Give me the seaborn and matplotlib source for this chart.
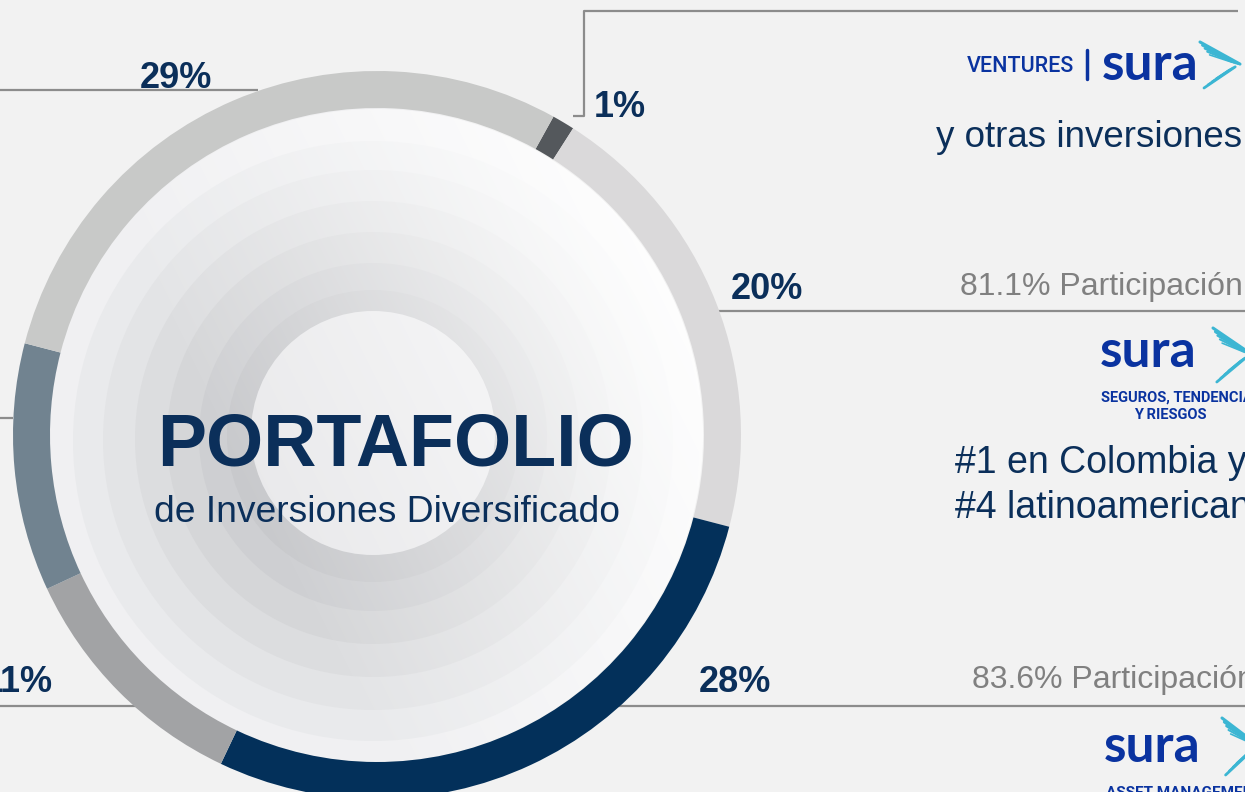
import numpy as np
import matplotlib.pyplot as plt
from matplotlib.patches import Circle
import seaborn as sns

# Anillo del portafolio (sentido horario, desde la porción de 1%)
segmentos = ['Ventures y otras', 'Seguros', 'Asset Management', 'Inversión A', 'Inversión B', 'Inversión C']
valores = [1, 20, 28, 11, 11, 29]
etiquetas = ['1%', '20%', '28%', '11%', '11%', '29%']
colores = ['#54585c', '#dad9da', '#03305a', '#a2a3a5', '#718390', '#c8c9c8']

participacion = ['81.1% Participación', '83.6% Participación']

W, H = 1245, 792
NAVY = '#0b2f5a'
AZUL = '#0a33a0'
CIAN = '#3cb6d3'
GRIS = '#8c8c8c'


def Y(y):
    # coordenadas de imagen (y hacia abajo) -> datos
    return H - y


sns.set_theme(style='white')
plt.rcParams['font.family'] = ['Liberation Sans', 'DejaVu Sans']

fig = plt.figure(figsize=(12.45, 7.92), dpi=100)
fig.patch.set_facecolor('#f2f2f2')
ax = fig.add_axes([0, 0, 1, 1])
ax.set_facecolor('#f2f2f2')

cx, cy = 377, Y(435)
R, ancho = 364, 37

# disco interior con círculos concéntricos
discos = [(0, 327, '#f0f0f2'), (6, 300, '#e9eaec'), (5, 270, '#e3e4e6'),
          (4, 238, '#dcdddf'), (3, 206, '#d5d6d8'), (2, 174, '#cecfd2'),
          (1, 146, '#c8c9cc'), (-2, 122, '#e9e9eb')]
for dy, r, c in discos:
    ax.add_patch(Circle((cx - 4, cy - dy), r, color=c, zorder=1, lw=0))

# luz desde arriba a la derecha
u = np.linspace(0, 1, 300)
v = np.linspace(0, 1, 300)
U, V = np.meshgrid(u, v)
alpha = np.clip(1.1 * U + 0.55 * V - 0.55, 0, 0.95)
luz = np.ones((300, 300, 4))
luz[..., 3] = alpha
im = ax.imshow(luz, extent=[cx - 327, cx + 327, cy - 327, cy + 327],
               origin='lower', zorder=2, interpolation='bilinear')
im.set_clip_path(Circle((cx, cy), 326, transform=ax.transData))

ax.pie(valores, colors=colores, startangle=61, counterclock=False,
       radius=R, center=(cx, cy),
       wedgeprops=dict(width=ancho, edgecolor='none', linewidth=0))
for p in ax.patches[-len(valores):]:
    p.set_zorder(3)

# líneas guía
lineas = [
    ([0, 258], [90, 90]),
    ([573, 584, 584, 1238], [116, 116, 11, 11]),
    ([718, W], [311, 311]),
    ([617, W], [706, 706]),
    ([0, 137], [706, 706]),
    ([0, 13], [418, 418]),
]
for xs, ys in lineas:
    ax.plot(xs, [Y(y) for y in ys], color=GRIS, lw=1.6, zorder=2.5,
            solid_capstyle='butt')

# etiquetas de porcentaje (la del segmento pizarra queda fuera del recorte)
pos_etiquetas = [(594, 117, 'left'), (731, 299, 'left'), (699, 692, 'left'),
                 (53, 692, 'right'), None, (140, 88, 'left')]
for txt, pos in zip(etiquetas, pos_etiquetas):
    if pos is None:
        continue
    x, y, ha = pos
    ax.text(x, Y(y), txt, ha=ha, va='baseline', fontsize=26,
            fontweight='bold', color=NAVY, zorder=5)

# título central
ax.text(396, Y(465), 'PORTAFOLIO', ha='center', va='baseline', fontsize=53,
        fontweight='bold', color=NAVY, zorder=5)
ax.text(387, Y(522), 'de Inversiones Diversificado', ha='center',
        va='baseline', fontsize=26.8, color=NAVY, zorder=5)


def ala(x0, y0, w, h):
    # ala estilizada del logo
    xm, ym = x0 + w, y0 + h * 0.48
    for i in range(5):
        ax.plot([x0 + i * w * 0.06, xm - i * w * 0.05],
                [Y(y0 + i * h * 0.07), Y(ym - i * h * 0.01)],
                color=CIAN, lw=2.2 - 0.25 * i, solid_capstyle='round', zorder=5)
    for i in range(4):
        ax.plot([x0 + w * 0.1 + i * w * 0.1, xm - w * 0.12 - i * w * 0.05],
                [Y(y0 + h - i * h * 0.07), Y(ym + h * 0.06 + i * h * 0.02)],
                color=CIAN, lw=2.0 - 0.3 * i, solid_capstyle='round', zorder=5)


# bloque Ventures
ax.text(967, Y(72), 'VENTURES', fontsize=15.5, color=AZUL, va='baseline',
        family=['Roboto', 'DejaVu Sans'], fontweight='medium', zorder=5)
ax.plot([1087, 1087], [Y(50), Y(79)], color=AZUL, lw=2.5, zorder=5)
ax.text(1102, Y(80), 'sura', fontsize=37, color=AZUL, va='baseline',
        family=['Lato', 'DejaVu Sans'], fontweight='bold', zorder=5)
ala(1200, 42, 40, 46)
ax.text(936, Y(147), 'y otras inversiones', fontsize=26.5, color=NAVY,
        va='baseline', zorder=5)
ax.text(960, Y(295), participacion[0], fontsize=23, color='#808080',
        va='baseline', zorder=5)

# bloque Seguros
ax.text(1100, Y(367), 'sura', fontsize=37, color=AZUL, va='baseline',
        family=['Lato', 'DejaVu Sans'], fontweight='bold', zorder=5)
ala(1213, 328, 38, 54)
ax.text(1101, Y(402), 'SEGUROS, TENDENCIAS', fontsize=10.5, color=AZUL,
        va='baseline', family=['Roboto', 'DejaVu Sans'], fontweight='bold', zorder=5)
ax.text(1170, Y(419), 'Y RIESGOS', fontsize=10.5, color=AZUL, ha='center',
        va='baseline', family=['Roboto', 'DejaVu Sans'], fontweight='bold', zorder=5)
ax.text(955, Y(473), '#1 en Colombia y', fontsize=27, color=NAVY,
        va='baseline', zorder=5)
ax.text(955, Y(518), '#4 latinoamericana', fontsize=27, color=NAVY,
        va='baseline', zorder=5)
ax.text(972, Y(688), participacion[1], fontsize=23, color='#808080',
        va='baseline', zorder=5)

# bloque Asset Management
ax.text(1104, Y(762), 'sura', fontsize=37, color=AZUL, va='baseline',
        family=['Lato', 'DejaVu Sans'], fontweight='bold', zorder=5)
ala(1222, 718, 36, 57)
ax.text(1106, Y(797), 'ASSET MANAGEMENT', fontsize=11, color=AZUL,
        va='baseline', family=['Roboto', 'DejaVu Sans'], fontweight='bold', zorder=5)

ax.set_xlim(0, W)
ax.set_ylim(0, H)
ax.set_aspect('equal')
ax.axis('off')

fig.savefig('out.png', dpi=100, facecolor=fig.get_facecolor())
